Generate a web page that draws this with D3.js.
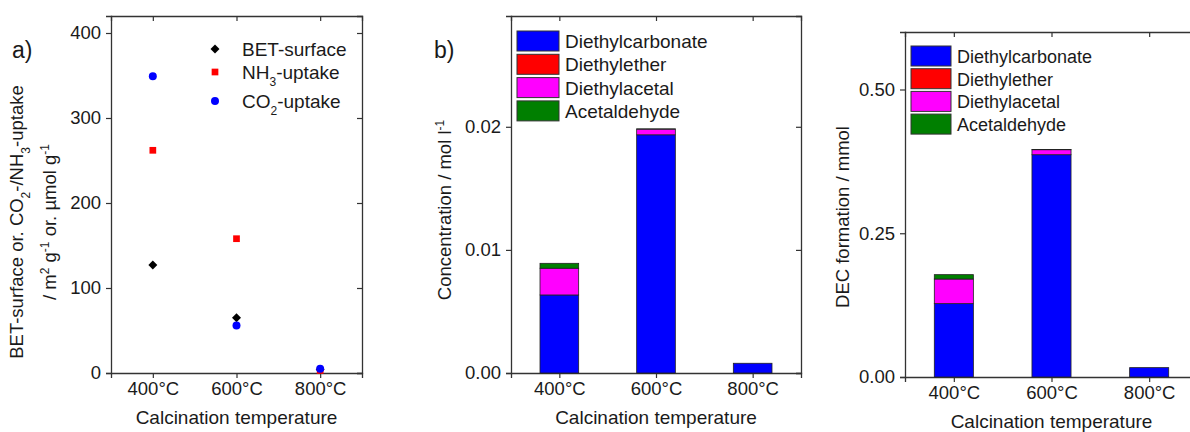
<!DOCTYPE html>
<html>
<head>
<meta charset="utf-8">
<style>
  body { margin: 0; background: #fff; }
  svg text { font-family: "Liberation Sans", Arial, sans-serif; fill: #1a1a1a; }
</style>
</head>
<body>
<svg width="1190" height="432"></svg>
<script src="https://d3js.org/d3.v7.min.js"></script>
<script>
// data
var categories = ["400°C", "600°C", "800°C"];

var betSurface = [127, 65, 4];
var nh3Uptake = [262, 158, 3];
var co2Uptake = [349, 56, 5];

var productNames = ["Diethylcarbonate", "Diethylether", "Diethylacetal", "Acetaldehyde"];
var productColors = ["#0000ff", "#ff0000", "#ff00ff", "#007f00"];

var concDEC = [0.00634, 0.01935, 0.00079];
var concEther = [0, 0, 0];
var concAcetal = [0.00217, 0.00046, 0];
var concAcetaldehyde = [0.0004, 0.00002, 0];

var formDEC = [0.1276, 0.3866, 0.0163];
var formEther = [0, 0, 0];
var formAcetal = [0.0428, 0.0087, 0];
var formAcetaldehyde = [0.0076, 0.0005, 0];

var ticksA = [0, 100, 200, 300, 400];
var ticksB = [0, 0.01, 0.02];
var ticksC = [0, 0.25, 0.5];

var svg = d3.select("svg");

// draws frame, axes and mirrored inner ticks; returns scales
function frame(box, yMax, yTicks, fmt) {
  var x = d3.scalePoint().domain(categories).range([box.left, box.right]).padding(0.5);
  var y = d3.scaleLinear().domain([0, yMax]).range([box.bottom, box.top]);
  var g = svg.append("g");

  var ax = g.append("g").attr("transform", "translate(0," + box.bottom + ")")
      .call(d3.axisBottom(x).tickSize(5).tickPadding(4));
  ax.selectAll("text").style("font-size", "18.5px");
  g.append("g").attr("transform", "translate(0," + box.top + ")")
      .call(d3.axisTop(x).tickSize(-5).tickFormat(""));
  var ay = g.append("g").attr("transform", "translate(" + box.left + ",0)")
      .call(d3.axisLeft(y).tickValues(yTicks).tickFormat(fmt).tickSize(5).tickPadding(5));
  ay.selectAll("text").style("font-size", "18.5px");
  g.append("g").attr("transform", "translate(" + box.right + ",0)")
      .call(d3.axisRight(y).tickValues(yTicks).tickSize(-5).tickFormat(""));

  g.selectAll(".domain").attr("stroke", "#333").attr("stroke-width", 1.3);
  g.selectAll(".tick line").attr("stroke", "#333").attr("stroke-width", 1.2);
  g.selectAll(".tick text").attr("fill", "#1a1a1a");

  g.append("text")
      .attr("x", (box.left + box.right) / 2).attr("y", box.bottom + 51)
      .attr("text-anchor", "middle").style("font-size", "19px")
      .text("Calcination temperature");
  return {x: x, y: y, g: g};
}

function supText(sel, parts) {
  parts.forEach(function(p) {
    var t = sel.append("tspan").text(p[0]);
    if (p[1] === "sub") t.attr("baseline-shift", "sub").style("font-size", "12px");
    if (p[1] === "sup") t.attr("baseline-shift", "super").style("font-size", "12px");
  });
}

// ---- panel a ----
var A = frame({left: 111, top: 16, right: 362, bottom: 373}, 420, ticksA, d3.format("d"));

var symDiamond = d3.symbol().type(d3.symbolSquare).size(40);
var symSquare = d3.symbol().type(d3.symbolSquare).size(45);
var symCircle = d3.symbol().type(d3.symbolCircle).size(50);

function place(d, i, rot) {
  return "translate(" + A.x(categories[i]) + "," + A.y(d) + ")" + (rot ? " rotate(45)" : "");
}
A.g.selectAll(".bet").data(betSurface).enter().append("path")
    .attr("d", symDiamond).attr("fill", "#000")
    .attr("transform", function(d, i) { return place(d, i, true); });
A.g.selectAll(".nh3").data(nh3Uptake).enter().append("path")
    .attr("d", symSquare).attr("fill", "#ff0000")
    .attr("transform", function(d, i) { return place(d, i); });
A.g.selectAll(".co2").data(co2Uptake).enter().append("path")
    .attr("d", symCircle).attr("fill", "#0000ff")
    .attr("transform", function(d, i) { return place(d, i); });

var legA = [
  {sym: symDiamond, color: "#000", y: 49, rot: true, parts: [["BET-surface"]]},
  {sym: symSquare, color: "#ff0000", y: 72, parts: [["NH"], ["3", "sub"], ["-uptake"]]},
  {sym: symCircle, color: "#0000ff", y: 101, parts: [["CO"], ["2", "sub"], ["-uptake"]]}
];
legA.forEach(function(l) {
  A.g.append("path").attr("d", l.sym).attr("fill", l.color)
      .attr("transform", "translate(215," + l.y + ")" + (l.rot ? " rotate(45)" : ""));
  var t = A.g.append("text").attr("x", 242).attr("y", l.y + 7).style("font-size", "19px");
  supText(t, l.parts);
});

svg.append("text").attr("x", 12).attr("y", 58).style("font-size", "23px").text("a)");

var yla = svg.append("g").attr("transform", "translate(23,222) rotate(-90)");
supText(yla.append("text").attr("text-anchor", "middle").style("font-size", "18.5px"),
  [["BET-surface or. CO"], ["2", "sub"], ["-/NH"], ["3", "sub"], ["-uptake"]]);
supText(yla.append("text").attr("y", 33).attr("text-anchor", "middle").style("font-size", "18.5px"),
  [["/ m"], ["2", "sup"], [" g"], ["-1", "sup"], [" or. µmol g"], ["-1", "sup"]]);

// ---- stacked bar panels ----
function stackedPanel(box, yMax, yTicks, fmt, series, legBox, title, titleX, label, labelX, labelY) {
  var P = frame(box, yMax, yTicks, fmt);
  var rows = categories.map(function(c, i) {
    var r = {cat: c};
    productNames.forEach(function(n, k) { r[n] = series[k][i]; });
    return r;
  });
  var stacked = d3.stack().keys(productNames)(rows);
  var bw = P.x.step() * 0.4;
  stacked.forEach(function(layer, k) {
    P.g.append("g").selectAll("rect").data(layer).enter().append("rect")
        .attr("x", function(d) { return P.x(d.data.cat) - bw / 2; })
        .attr("width", bw)
        .attr("y", function(d) { return P.y(d[1]); })
        .attr("height", function(d) { return P.y(d[0]) - P.y(d[1]); })
        .attr("fill", productColors[k])
        .attr("stroke", "#222").attr("stroke-width", 0.8);
  });
  productNames.forEach(function(n, k) {
    P.g.append("rect").attr("x", legBox.x).attr("y", legBox.y + k * legBox.pitch)
        .attr("width", legBox.w).attr("height", legBox.h)
        .attr("fill", productColors[k]).attr("stroke", "#333").attr("stroke-width", 1);
    P.g.append("text").attr("x", legBox.x + legBox.w + 6)
        .attr("y", legBox.y + k * legBox.pitch + legBox.h / 2 + 7)
        .style("font-size", legBox.fs).text(n);
  });
  if (title) svg.append("text").attr("x", titleX).attr("y", 58).style("font-size", "23px").text(title);
  var yl = svg.append("text").attr("text-anchor", "middle").style("font-size", "18.5px")
      .attr("transform", "translate(" + labelX + "," + labelY + ") rotate(-90)");
  supText(yl, label);
  return P;
}

stackedPanel({left: 511, top: 16, right: 801, bottom: 373}, 0.029, ticksB, d3.format(".2f"),
  [concDEC, concEther, concAcetal, concAcetaldehyde],
  {x: 517, y: 31, w: 42, h: 20, pitch: 23.3, fs: "19px"},
  "b)", 434, [["Concentration / mol l"], ["-1", "sup"]], 451, 210);

stackedPanel({left: 905, top: 32, right: 1198, bottom: 377}, 0.6, ticksC, d3.format(".2f"),
  [formDEC, formEther, formAcetal, formAcetaldehyde],
  {x: 911, y: 46, w: 40, h: 20, pitch: 22.7, fs: "18px"},
  null, 0, [["DEC formation / mmol"]], 849, 217);
</script>
</body>
</html>
